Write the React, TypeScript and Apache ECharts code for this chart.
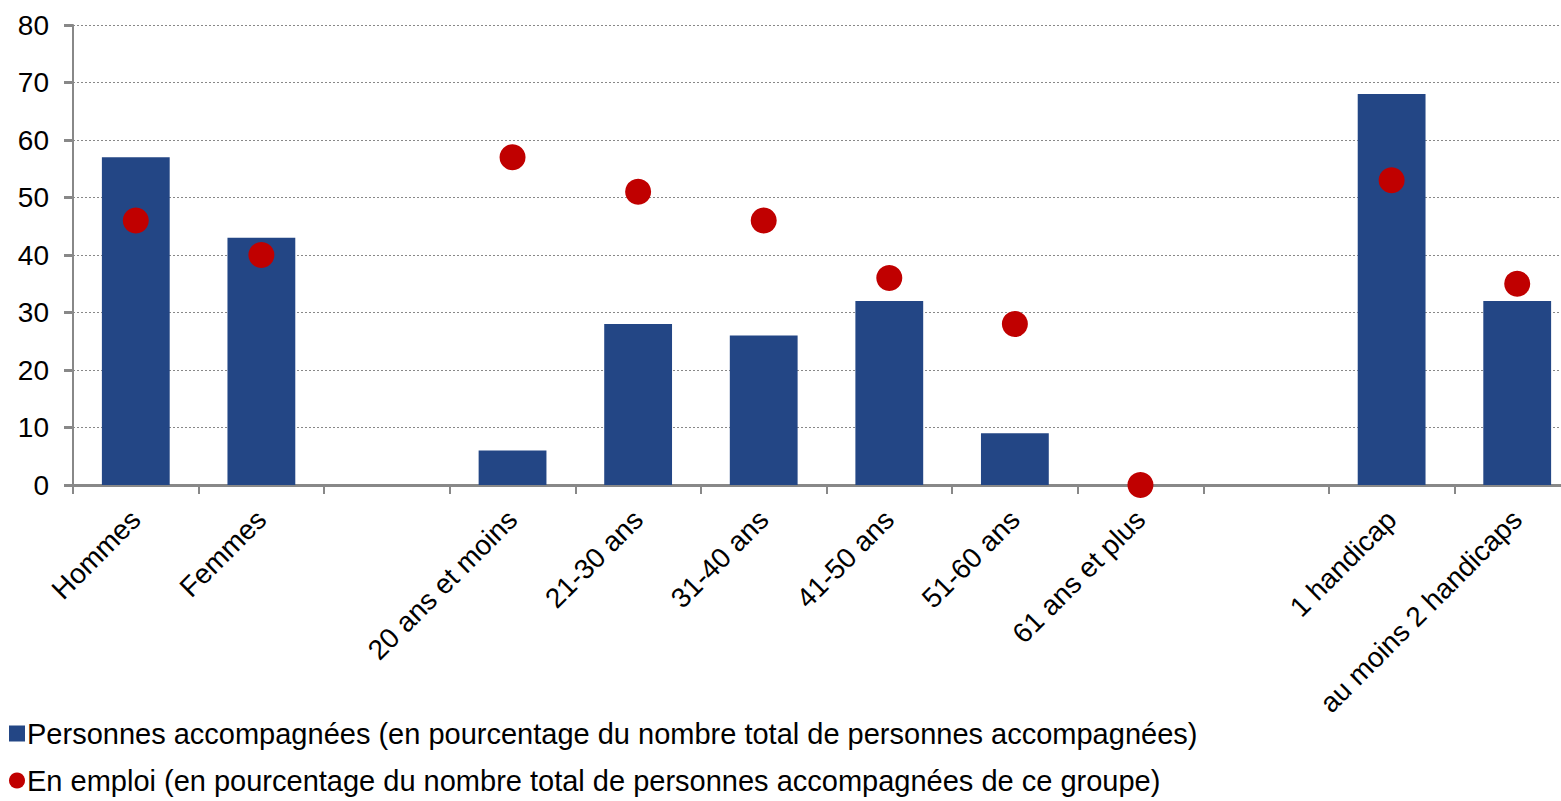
import React, { useEffect, useRef } from "react";
import * as echarts from "echarts";

const categories = [
  "Hommes",
  "Femmes",
  "",
  "20 ans et moins",
  "21-30 ans",
  "31-40 ans",
  "41-50 ans",
  "51-60 ans",
  "61 ans et plus",
  "",
  "1 handicap",
  "au moins 2 handicaps",
];

const accompagnees = [57, 43, null, 6, 28, 26, 32, 9, 0, null, 68, 32];
const enEmploi = [46, 40, null, 57, 51, 46, 36, 28, 0, null, 53, 35];

const yTicks = { min: 0, max: 80, interval: 10 };

const seriesNames = [
  "Personnes accompagnées (en pourcentage du nombre total de personnes accompagnées)",
  "En emploi (en pourcentage du nombre total de personnes accompagnées de ce groupe)",
];

export default function App() {
  const ref = useRef<HTMLDivElement>(null);
  useEffect(() => {
    if (!ref.current) return;
    const chart = echarts.init(ref.current, null, { renderer: "svg" });
    const font = "'Liberation Sans', Arial, sans-serif";
    const legendText = { fontSize: 29, color: "#000", fontFamily: font, padding: [0, 0, 0, -3] };
    chart.setOption({
      animation: false,
      textStyle: { fontFamily: font },
      grid: { left: 73, top: 25, bottom: 316, right: 0, containLabel: false },
      legend: [
        {
          orient: "vertical",
          left: 4,
          top: 714,
          itemWidth: 16,
          itemHeight: 16,
          textStyle: legendText,
          data: [{ name: seriesNames[0], icon: "rect" }],
        },
        {
          orient: "vertical",
          left: 4,
          top: 761,
          itemWidth: 16,
          itemHeight: 16,
          textStyle: legendText,
          data: [{ name: seriesNames[1], icon: "circle" }],
        },
      ],
      xAxis: {
        type: "category",
        data: categories,
        axisLine: { lineStyle: { color: "#888", width: 3 } },
        axisTick: { show: true, length: 9, lineStyle: { color: "#888", width: 2 } },
        axisLabel: {
          interval: 0,
          rotate: 45,
          fontSize: 28,
          color: "#000",
          margin: 30,
          fontFamily: font,
        },
      },
      yAxis: {
        type: "value",
        min: yTicks.min,
        max: yTicks.max,
        interval: yTicks.interval,
        axisLine: { show: true, lineStyle: { color: "#888", width: 2 } },
        axisTick: { show: true, length: 9, lineStyle: { color: "#888", width: 3 } },
        axisLabel: { fontSize: 28, color: "#000", margin: 24, fontFamily: font },
        splitLine: { show: true, lineStyle: { color: "#888", width: 1, type: [2, 2] } },
      },
      series: [
        {
          name: seriesNames[0],
          type: "bar",
          data: accompagnees,
          barWidth: "54%",
          itemStyle: { color: "#234685" },
        },
        {
          name: seriesNames[1],
          type: "scatter",
          data: enEmploi,
          symbol: "circle",
          symbolSize: 26,
          itemStyle: { color: "#C00000", opacity: 1 },
        },
      ],
    });
    return () => chart.dispose();
  }, []);
  return (
    <div
      ref={ref}
      style={{ position: "fixed", left: 0, top: 0, width: 1580, height: 801, background: "#fff" }}
    />
  );
}
